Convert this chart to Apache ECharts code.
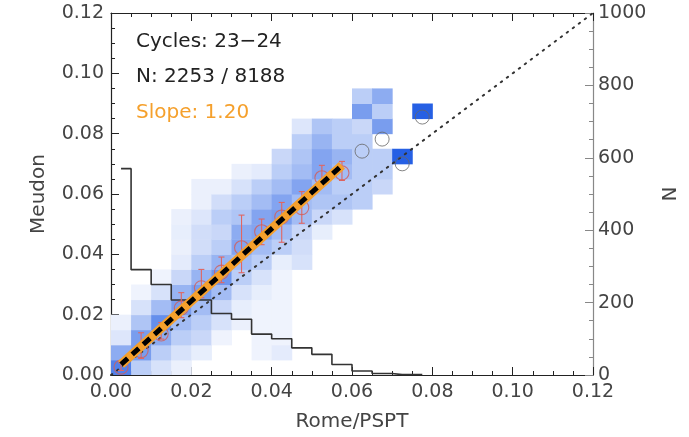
<!DOCTYPE html>
<html>
<head>
<meta charset="utf-8">
<script src="https://cdn.jsdelivr.net/npm/echarts@6/dist/echarts.min.js"></script>
<style>
  html, body { margin: 0; padding: 0; background: #fff; }
  #myChart { width: 689px; height: 437px; }
</style>
</head>
<body>
<div id="myChart"></div>
<script>
// bin width of the 2D histogram (both axes)
var binSize = 0.005;

// 2D histogram: one array per x bin, levels from the first row upward
var heatRowStart = [0, 0, 0, 0, 1, 2, 3, 1, 1, 7, 9, 10, 11, 12, 14, 17];
var heatLevels = [
  [7, 4, 0.8, 0.4],
  [2, 5, 5, 2.5, 1, 0.3],
  [1, 2, 4, 6, 3, 1, 0.3],
  [0.4, 1, 2, 3, 5, 3.5, 1.5, 0.6, 0.4, 0.5, 0.4],
  [0.5, 1.5, 2, 3, 5, 3.5, 2, 1.2, 1.2, 0.8, 0.4, 0.4],
  [0.3, 1, 1.5, 3, 5.5, 3.5, 2, 1.5, 2, 1.2, 0.4],
  [0.4, 0.5, 1, 2, 3, 4.5, 4, 2.5, 2, 1, 0.4],
  [0.3, 0.3, 0.3, 0.3, 0.5, 1, 2, 3, 4.5, 4.5, 3, 2, 0.6],
  [0.6, 0.3, 0.3, 0.3, 0.3, 0.3, 0.5, 2, 3, 5, 4.5, 3, 2, 1.5],
  [1, 1.2, 1.5, 3, 3, 4.5, 3, 2.5, 2, 0.8],
  [0.5, 1.5, 2.5, 3, 4.5, 4.5, 3.5, 2.5],
  [1, 2.5, 2, 3, 3.5, 2, 2],
  [2, 2, 2, 2, 2, 1.5, 5, 2],
  [1.5, 2, 2, 0, 5, 2, 4],
  [9.5],
  [9.5]
];

// 1D histogram of Rome/PSPT (right axis, N)
var histCenters = [0.0025, 0.0075, 0.0125, 0.0175, 0.0225, 0.0275, 0.0325, 0.0375,
                   0.0425, 0.0475, 0.0525, 0.0575, 0.0625, 0.0675, 0.0725, 0.0775];
var histCounts = [570, 291, 250, 207, 207, 170, 154, 113, 100, 75, 57, 29, 11, 4, 1, 1];

// binned medians with error bars
var medX = [0.0025, 0.0075, 0.0125, 0.0175, 0.0225, 0.0275, 0.0325, 0.0375, 0.0425, 0.0475, 0.0525, 0.0575];
var medY = [0.0026, 0.0081, 0.0136, 0.0222, 0.0289, 0.0341, 0.0422, 0.0475, 0.0524, 0.0555, 0.0654, 0.0670];
var medLo = [0.0015, 0.0055, 0.0119, 0.0190, 0.0256, 0.0306, 0.0339, 0.0432, 0.0440, 0.0503, 0.0634, 0.0645];
var medHi = [0.0040, 0.0140, 0.0174, 0.0273, 0.0350, 0.0391, 0.0530, 0.0517, 0.0572, 0.0608, 0.0695, 0.0708];

// medians outside the fit range
var outX = [0.0625, 0.0675, 0.0725, 0.0775];
var outY = [0.0742, 0.0782, 0.0700, 0.0855];

// linear fit
var slope = 1.20;
var intercept = 0.0005;
var fitX = [0.0025, 0.0575];

var axisMax = 0.12;
var nMax = 1000;

var font = "DejaVu Sans";
var textColor = "#444";

function heatColor(level) {
  var t = Math.pow(Math.min(level / 10, 1), 0.75);
  var c0 = [255, 255, 255];
  var c1 = [29, 90, 227];
  var r = Math.round(c0[0] + (c1[0] - c0[0]) * t);
  var g = Math.round(c0[1] + (c1[1] - c0[1]) * t);
  var b = Math.round(c0[2] + (c1[2] - c0[2]) * t);
  return "rgb(" + r + "," + g + "," + b + ")";
}

var heatData = [];
for (var i = 0; i < heatLevels.length; i++) {
  for (var j = 0; j < heatLevels[i].length; j++) {
    if (heatLevels[i][j] > 0) {
      heatData.push([i * binSize, (heatRowStart[i] + j) * binSize, heatLevels[i][j]]);
    }
  }
}

var histData = histCenters.map(function (x, k) { return [x, histCounts[k]]; });
var medData = medX.map(function (x, k) { return [x, medY[k]]; });
var errData = medX.map(function (x, k) { return [x, medLo[k], medHi[k]]; });
var outData = outX.map(function (x, k) { return [x, outY[k]]; });
var fitData = fitX.map(function (x) { return [x, slope * x + intercept]; });

var myChart = echarts.init(document.getElementById("myChart"));

function xAxisCfg(pos, showLabel) {
  return {
    type: "value",
    position: pos,
    min: 0,
    max: axisMax,
    interval: 0.02,
    name: showLabel ? "Rome/PSPT" : "",
    nameLocation: "middle",
    nameGap: 37,
    nameTextStyle: { fontFamily: font, fontSize: 20, color: textColor },
    axisLine: { show: true, onZero: false, lineStyle: { color: "#222", width: 1.2 } },
    axisTick: { show: true, inside: true, length: 8, lineStyle: { color: "#222" } },
    minorTick: { show: true, splitNumber: 4, length: 4, lineStyle: { color: "#222" } },
    splitLine: { show: false },
    axisLabel: {
      show: showLabel,
      margin: 8,
      fontFamily: font,
      fontSize: 19,
      color: textColor,
      formatter: function (v) { return v.toFixed(2); }
    }
  };
}

var option = {
  animation: false,
  grid: { left: 111, right: 96, top: 13, bottom: 59, containLabel: false },
  xAxis: [xAxisCfg("bottom", true), xAxisCfg("top", false)],
  yAxis: [
    {
      type: "value",
      position: "left",
      min: 0,
      max: axisMax,
      interval: 0.02,
      name: "Meudon",
      nameLocation: "middle",
      nameGap: 62,
      nameTextStyle: { fontFamily: font, fontSize: 20, color: textColor },
      axisLine: { show: true, onZero: false, lineStyle: { color: "#222", width: 1.2 } },
      axisTick: { show: true, inside: true, length: 8, lineStyle: { color: "#222" } },
      minorTick: { show: true, splitNumber: 4, length: 4, lineStyle: { color: "#222" } },
      splitLine: { show: false },
      axisLabel: {
        margin: 7,
        fontFamily: font,
        fontSize: 19,
        color: textColor,
        formatter: function (v) { return v.toFixed(2); }
      }
    },
    {
      type: "value",
      position: "right",
      min: 0,
      max: nMax,
      interval: 200,
      name: "N",
      nameLocation: "middle",
      nameGap: 54,
      nameRotate: -90,
      nameTextStyle: { fontFamily: font, fontSize: 20, color: textColor },
      axisLine: { show: true, onZero: false, lineStyle: { color: "#888", width: 1.2 } },
      axisTick: { show: true, inside: true, length: 8, lineStyle: { color: "#888" } },
      minorTick: { show: true, splitNumber: 4, length: 4, lineStyle: { color: "#888" } },
      splitLine: { show: false },
      axisLabel: {
        margin: 5,
        fontFamily: font,
        fontSize: 19,
        color: textColor,
        formatter: function (v) { return String(v); }
      }
    }
  ],
  series: [
    {
      type: "custom",
      name: "density",
      xAxisIndex: 0,
      yAxisIndex: 0,
      encode: { x: 0, y: 1 },
      clip: true,
      z: 1,
      renderItem: function (params, api) {
        var x0 = api.value(0);
        var y0 = api.value(1);
        var p0 = api.coord([x0, y0 + binSize]);
        var p1 = api.coord([x0 + binSize, y0]);
        return {
          type: "rect",
          shape: { x: p0[0], y: p0[1], width: p1[0] - p0[0] + 0.5, height: p1[1] - p0[1] + 0.5 },
          style: { fill: heatColor(api.value(2)) }
        };
      },
      data: heatData
    },
    {
      type: "line",
      name: "N",
      xAxisIndex: 0,
      yAxisIndex: 1,
      step: "middle",
      symbol: "none",
      z: 2,
      lineStyle: { color: "#333", width: 1.6 },
      data: histData
    },
    {
      type: "line",
      name: "1:1",
      symbol: "none",
      z: 3,
      lineStyle: { color: "#333", width: 2, type: [1.5, 6], cap: "round" },
      data: [[0, 0], [axisMax, axisMax]]
    },
    {
      type: "custom",
      name: "errors",
      encode: { x: 0, y: [1, 2] },
      z: 4,
      renderItem: function (params, api) {
        var lo = api.coord([api.value(0), api.value(1)]);
        var hi = api.coord([api.value(0), api.value(2)]);
        var style = { stroke: "#e06662", lineWidth: 1.1 };
        return {
          type: "group",
          children: [
            { type: "line", shape: { x1: lo[0], y1: lo[1], x2: hi[0], y2: hi[1] }, style: style },
            { type: "line", shape: { x1: lo[0] - 3, y1: lo[1], x2: lo[0] + 3, y2: lo[1] }, style: style },
            { type: "line", shape: { x1: hi[0] - 3, y1: hi[1], x2: hi[0] + 3, y2: hi[1] }, style: style }
          ]
        };
      },
      data: errData
    },
    {
      type: "scatter",
      name: "median",
      symbol: "circle",
      symbolSize: 14,
      z: 5,
      itemStyle: { color: "rgba(0,0,0,0)", borderColor: "#d55c58", borderWidth: 1.1 },
      data: medData
    },
    {
      type: "scatter",
      name: "outside",
      symbol: "circle",
      symbolSize: 14,
      z: 5,
      itemStyle: { color: "rgba(0,0,0,0)", borderColor: "#666", borderWidth: 1 },
      data: outData
    },
    {
      type: "line",
      name: "fit",
      symbol: "none",
      z: 6,
      lineStyle: { color: "#f5a02c", width: 9 },
      data: fitData
    },
    {
      type: "line",
      name: "fit dashed",
      symbol: "none",
      z: 7,
      lineStyle: { color: "#000", width: 5, type: [9, 6] },
      data: fitData
    }
  ],
  graphic: [
    { type: "text", left: 136, top: 32, style: { text: "Cycles: 23\u221224", font: "20px " + font, fill: "#222" } },
    { type: "text", left: 136, top: 67, style: { text: "N: 2253 / 8188", font: "20px " + font, fill: "#222" } },
    { type: "text", left: 136, top: 103, style: { text: "Slope: 1.20", font: "20px " + font, fill: "#f5a02c" } }
  ]
};
myChart.setOption(option);
</script>
</body>
</html>
